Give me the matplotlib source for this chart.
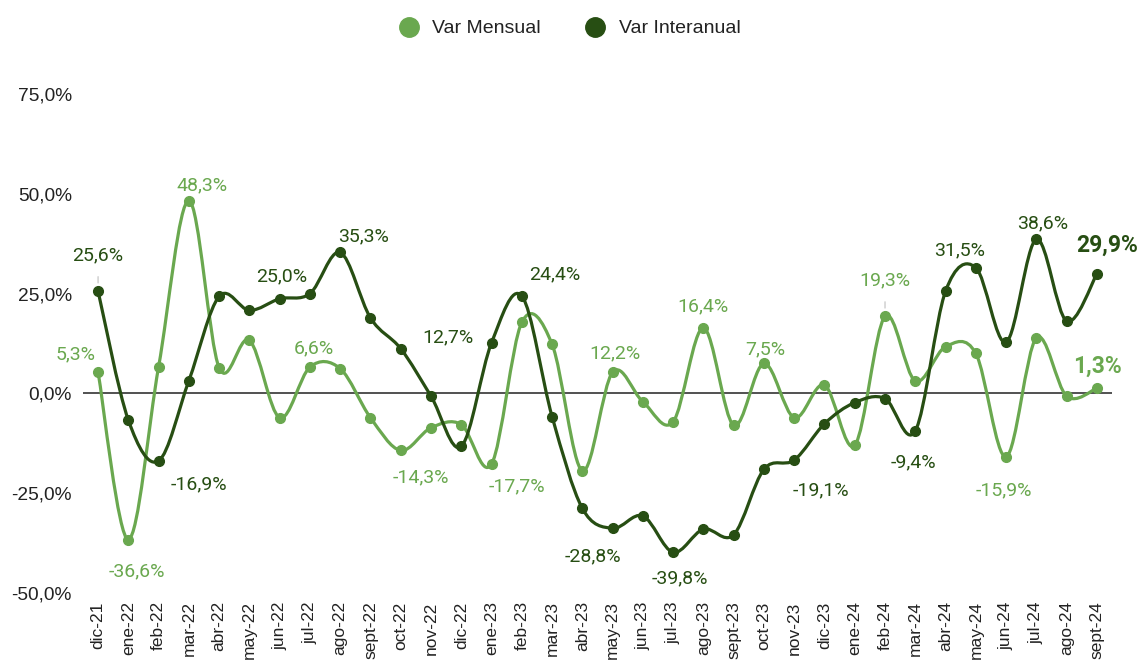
import numpy as np
import matplotlib.pyplot as plt
from matplotlib.path import Path
from matplotlib.patches import PathPatch
from matplotlib.lines import Line2D

# months shown on the x axis
months = ["dic-21", "ene-22", "feb-22", "mar-22", "abr-22", "may-22", "jun-22", "jul-22",
          "ago-22", "sept-22", "oct-22", "nov-22", "dic-22", "ene-23", "feb-23", "mar-23",
          "abr-23", "may-23", "jun-23", "jul-23", "ago-23", "sept-23", "oct-23", "nov-23",
          "dic-23", "ene-24", "feb-24", "mar-24", "abr-24", "may-24", "jun-24", "jul-24",
          "ago-24", "sept-24"]

# monthly change (%)
var_mensual = [5.3, -36.6, 6.7, 48.3, 6.4, 13.3, -6.1, 6.6, 6.2, -6.1, -14.3, -8.6,
               -7.8, -17.7, 17.8, 12.3, -19.4, 5.3, -2.1, -7.1, 16.4, -8.0, 7.5, -6.1,
               2.1, -13.0, 19.3, 3.1, 11.7, 10.0, -15.9, 13.9, -0.7, 1.3]

# year-on-year change (%)
var_interanual = [25.6, -6.7, -16.9, 3.2, 24.3, 20.8, 23.7, 25.0, 35.3, 18.9, 11.2, -0.7,
                  -13.3, 12.7, 24.4, -5.8, -28.8, -33.8, -30.7, -39.8, -34.0, -35.4, -19.0,
                  -16.7, -7.6, -2.3, -1.3, -9.4, 25.6, 31.5, 12.8, 38.6, 18.1, 29.9]

# data labels as shown in the chart: (month index, text)
mensual_labels = [(0, "5,3%"), (1, "-36,6%"), (3, "48,3%"), (7, "6,6%"), (10, "-14,3%"),
                  (13, "-17,7%"), (17, "12,2%"), (20, "16,4%"), (22, "7,5%"), (26, "19,3%"),
                  (30, "-15,9%"), (33, "1,3%")]
interanual_labels = [(0, "25,6%"), (2, "-16,9%"), (7, "25,0%"), (8, "35,3%"), (13, "12,7%"),
                     (14, "24,4%"), (16, "-28,8%"), (19, "-39,8%"), (23, "-19,1%"),
                     (27, "-9,4%"), (29, "31,5%"), (31, "38,6%"), (33, "29,9%")]

yticks = [-50, -25, 0, 25, 50, 75]

LIGHT = "#6aa84f"
DARK = "#274e13"

# label offsets in pixels (dx, dy up)
mensual_off = {0: (-23, 18), 1: (9, -32), 3: (13, 15), 7: (4, 19), 10: (20, -27),
               13: (25, -22), 17: (2, 19), 20: (0, 22), 22: (1, 14), 26: (0, 36),
               30: (-2, -33), 33: (1, 22)}
interanual_off = {0: (0, 36), 2: (40, -23), 7: (-28, 17), 8: (23, 16), 13: (-44, 5),
                  14: (33, 22), 16: (11, -48), 19: (7, -26), 23: (27, -30), 27: (-2, -31),
                  29: (-16, 17), 31: (6, 16), 33: (10, 29)}
leaders = {("m", 26), ("i", 0)}


def smooth_path(x, y):
    """Catmull-Rom curve through the points, as cubic bezier segments."""
    pts = np.column_stack([x, y])
    ext = np.vstack([pts[0], pts, pts[-1]])
    verts = [pts[0]]
    codes = [Path.MOVETO]
    for i in range(len(pts) - 1):
        p0, p1, p2, p3 = ext[i], ext[i + 1], ext[i + 2], ext[i + 3]
        c1 = p1 + (p2 - p0) / 6.0
        c2 = p2 - (p3 - p1) / 6.0
        verts += [c1, c2, p2]
        codes += [Path.CURVE4] * 3
    return Path(verts, codes)


fig = plt.figure(figsize=(11.41, 6.66), dpi=100)
ax = fig.add_axes([0.0727, 0.1096, 0.9019, 0.7493])

x = np.arange(len(months))
ax.axhline(0, color="#333333", lw=1.2, zorder=1)

for vals, col in [(var_mensual, LIGHT), (var_interanual, DARK)]:
    ax.add_patch(PathPatch(smooth_path(x, vals), facecolor="none", edgecolor=col,
                           lw=2.3, zorder=3, capstyle="round", joinstyle="round"))
    ax.plot(x, vals, "o", color=col, ms=7, zorder=4)

for key, labels, vals, offs, col in [("m", mensual_labels, var_mensual, mensual_off, LIGHT),
                                     ("i", interanual_labels, var_interanual, interanual_off, DARK)]:
    for idx, txt in labels:
        dx, dy = offs[idx]
        last = idx == len(months) - 1
        arrow = None
        if (key, idx) in leaders:
            arrow = dict(arrowstyle="-", color="#cccccc", lw=1.0, shrinkA=7, shrinkB=6)
        ax.annotate(txt, (idx, vals[idx]), xytext=(dx * 0.72, dy * 0.72),
                    textcoords="offset points", ha="center", va="center",
                    color=col, family="Roboto", fontsize=16.5 if last else 14,
                    fontweight="bold" if last else "normal", arrowprops=arrow, zorder=5)

ax.set_xlim(-0.5, len(months) - 0.5)
ax.set_ylim(-50, 75)
ax.set_xticks(x)
ax.set_xticklabels(months, rotation=90, family="Liberation Sans", fontsize=12.5, color="#222222")
ax.set_yticks(yticks)
ax.set_yticklabels([f"{v:.1f}%".replace(".", ",") for v in yticks],
                   family="Liberation Sans", fontsize=13.8, color="#222222")
ax.tick_params(axis="y", length=0, pad=8)
ax.tick_params(axis="x", length=0, pad=6)
for s in ax.spines.values():
    s.set_visible(False)

handles = [Line2D([], [], ls="none", marker="o", ms=14, color=LIGHT),
           Line2D([], [], ls="none", marker="o", ms=14, color=DARK)]
fig.legend(handles, ["Var Mensual", "Var Interanual"], loc="center", ncol=2,
           bbox_to_anchor=(0.495, 0.957), frameon=False, handletextpad=0.2, columnspacing=1.8,
           prop={"family": "Liberation Sans", "size": 14}, labelcolor="#222222")

fig.savefig("out.png", dpi=100)
